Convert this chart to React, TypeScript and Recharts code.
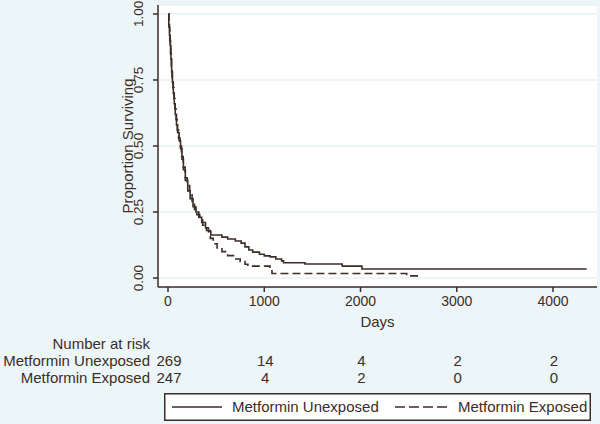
import { LineChart, Line, XAxis, YAxis, CartesianGrid, Legend } from 'recharts'

// Kaplan-Meier estimates
const unexposedDays = [0, 8, 15, 22, 30, 38, 46, 55, 65, 75, 88, 100, 115, 130, 145, 160, 180, 205, 230, 260, 290, 320, 350, 390, 420, 445, 560, 620, 700, 760, 800, 840, 880, 950, 1000, 1060, 1120, 1180, 1200, 1423, 1810, 2015, 4350]
const unexposedSurv = [1.0, 0.96, 0.92, 0.88, 0.83, 0.78, 0.74, 0.7, 0.66, 0.62, 0.58, 0.55, 0.52, 0.49, 0.45, 0.41, 0.37, 0.33, 0.3, 0.27, 0.25, 0.23, 0.21, 0.19, 0.175, 0.163, 0.155, 0.148, 0.14, 0.132, 0.118, 0.106, 0.098, 0.09, 0.084, 0.08, 0.072, 0.065, 0.058, 0.053, 0.045, 0.034, 0.034]

const exposedDays = [0, 10, 18, 26, 34, 42, 52, 62, 72, 84, 96, 110, 125, 140, 158, 178, 200, 225, 250, 275, 300, 330, 360, 400, 440, 470, 510, 560, 620, 680, 750, 800, 830, 1060, 1080, 2480, 2640]
const exposedSurv = [1.0, 0.95, 0.9, 0.85, 0.8, 0.76, 0.72, 0.68, 0.64, 0.6, 0.56, 0.53, 0.5, 0.46, 0.42, 0.38, 0.35, 0.32, 0.29, 0.26, 0.24, 0.22, 0.2, 0.18, 0.15, 0.13, 0.114, 0.1, 0.085, 0.072, 0.062, 0.052, 0.045, 0.035, 0.017, 0.008, 0.008]

const seriesNames = ['Metformin Unexposed', 'Metformin Exposed']
const xTicks = [0, 1000, 2000, 3000, 4000]
const yTicks = [0, 0.25, 0.5, 0.75, 1]
const riskUnexposed = [269, 14, 4, 2, 2]
const riskExposed = [247, 4, 2, 0, 0]

const unexposed = unexposedDays.map((d, i) => ({ day: d, surv: unexposedSurv[i] }))
const exposed = exposedDays.map((d, i) => ({ day: d, surv: exposedSurv[i] }))

const ink = '#3b2d29'
const xDomain = [-104, 4457]

const YTick = ({ x, y, payload }: any) => (
  <text
    x={x - 13}
    y={y}
    dy="0.35em"
    textAnchor="middle"
    fontSize={13.5}
    fill={ink}
    transform={`rotate(-90, ${x - 13}, ${y})`}
  >
    {payload.value.toFixed(2)}
  </text>
)

// x tick label plus the number-at-risk table underneath, lined up on the same scale
const XTick = ({ x, y, payload }: any) => {
  const i = xTicks.indexOf(payload.value)
  return (
    <g fill={ink}>
      <text x={x} y={y} dy="0.71em" textAnchor="middle" fontSize={14}>{payload.value}</text>
      {i === 0 && (
        <g fontSize={15} textAnchor="end">
          <text x={x - 18} y={y + 48} dy="0.35em">Number at risk</text>
          <text x={x - 18} y={y + 65} dy="0.35em">{seriesNames[0]}</text>
          <text x={x - 18} y={y + 82} dy="0.35em">{seriesNames[1]}</text>
        </g>
      )}
      <g fontSize={15} textAnchor="middle">
        <text x={x + 1} y={y + 65} dy="0.35em">{riskUnexposed[i]}</text>
        <text x={x + 1} y={y + 82} dy="0.35em">{riskExposed[i]}</text>
      </g>
    </g>
  )
}

const KMLegend = ({ payload }: any) => {
  const spots = [{ line: [8, 58], text: 68 }, { line: [231, 283], text: 294 }]
  const items = seriesNames.map((n) => (payload || []).find((p: any) => p.value === n)).filter(Boolean)
  return (
    <svg width={427} height={28} style={{ display: 'block' }}>
      <rect x={0.75} y={0.75} width={425.5} height={26.5} fill="#fff" stroke={ink} strokeWidth={1.5} />
      {items.map((p: any, i: number) => (
        <g key={p.value}>
          <line
            x1={spots[i].line[0]}
            x2={spots[i].line[1]}
            y1={14}
            y2={14}
            stroke={ink}
            strokeWidth={1.6}
            strokeDasharray={i === 1 ? '10 4' : undefined}
          />
          <text x={spots[i].text} y={14} dy="0.35em" fontSize={15} fill={ink}>{p.value}</text>
        </g>
      ))}
    </svg>
  )
}

export default function App() {
  return (
    <div
      style={{
        position: 'absolute',
        left: 0,
        top: 0,
        width: 600,
        height: 424,
        background: '#ecf5f7',
        fontFamily: '"Liberation Sans", Arial, sans-serif',
      }}
    >
      <LineChart width={600} height={424} margin={{ top: 5, right: 3, left: 0, bottom: 97 }}>
        <CartesianGrid vertical={false} fill="#fff" stroke="#dcebef" />
        <XAxis
          dataKey="day"
          type="number"
          domain={xDomain}
          ticks={xTicks}
          allowDataOverflow
          height={40}
          stroke={ink}
          strokeWidth={1.5}
          tickSize={5}
          tickMargin={4}
          tick={<XTick />}
          label={{ value: 'Days', position: 'insideBottom', offset: 0, fill: ink, fontSize: 15 }}
        />
        <YAxis
          type="number"
          domain={[-0.034, 1.034]}
          ticks={yTicks}
          allowDataOverflow
          width={158}
          stroke={ink}
          strokeWidth={1.5}
          tickSize={5}
          tickMargin={2}
          tick={<YTick />}
          label={(props: any) => {
            const vb = props.viewBox
            const cx = 128
            const cy = vb.y + vb.height / 2
            return (
              <text x={cx} y={cy} dy="0.35em" textAnchor="middle" fontSize={15} fill={ink} transform={`rotate(-90, ${cx}, ${cy})`}>
                Proportion Surviving
              </text>
            )
          }}
        />
        <Line
          data={unexposed}
          dataKey="surv"
          name={seriesNames[0]}
          type="stepAfter"
          stroke={ink}
          strokeWidth={1.6}
          dot={false}
          isAnimationActive={false}
        />
        <Line
          data={exposed}
          dataKey="surv"
          name={seriesNames[1]}
          type="stepAfter"
          stroke={ink}
          strokeWidth={1.6}
          strokeDasharray="8 4"
          dot={false}
          isAnimationActive={false}
        />
        <Legend
          verticalAlign="middle"
          align="center"
          content={<KMLegend />}
          wrapperStyle={{ left: 164, top: 393, width: 427, height: 28 }}
        />
      </LineChart>
    </div>
  )
}
